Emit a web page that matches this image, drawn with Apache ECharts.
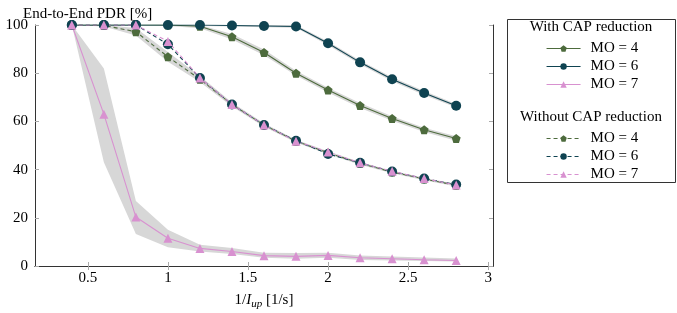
<!DOCTYPE html>
<html><head><meta charset="utf-8">
<script src="https://cdn.jsdelivr.net/npm/echarts@6/dist/echarts.min.js"></script>
<style>html,body{margin:0;padding:0;background:#fff}#c{width:677px;height:313px}</style>
</head><body><div id="c"></div>
<script>
const xs = [0.4, 0.6, 0.8, 1.0, 1.2, 1.4, 1.6, 1.8, 2.0, 2.2, 2.4, 2.6, 2.8];
const xTicks = [0.5, 1, 1.5, 2, 2.5, 3];
const yTicks = [0, 20, 40, 60, 80, 100];

const withMO4 = [100, 100, 100, 100, 99.5, 95.1, 88.6, 80, 73, 66.6, 61.2, 56.5, 52.9];
const withMO6 = [100, 100, 100, 100, 100, 99.8, 99.6, 99.4, 92.4, 84.5, 77.5, 71.8, 66.5];
const withMO7 = [100, 63, 20.3, 11.5, 7.3, 6, 4.3, 4, 4.4, 3.4, 3, 2.6, 2.3];
const withoutMO4 = [100, 99.8, 97.2, 86.8, 77.5, 67, 58.5, 51.8, 47, 42.6, 39, 36.1, 33.5];
const withoutMO6 = [100, 100, 100, 92, 78, 67, 58.5, 52, 46.5, 42.8, 39.2, 36.3, 33.8];
const withoutMO7 = [100, 100, 100, 93.2, 78, 67, 58.5, 51.8, 47.3, 42.8, 39.3, 36.3, 33.6];

const withMO7Lo = [100, 43, 13.3, 7.8, 6, 5, 3.4, 3, 3.4, 2.5, 2.3, 2.1, 1.9];
const withMO7Hi = [100, 82, 27, 15, 8.8, 7.5, 5.5, 5.4, 5.5, 4.4, 3.9, 3.5, 3.1];
const withMO4Lo = [100, 100, 100, 99.6, 98.6, 94, 87.4, 79, 72, 65.6, 60.3, 55.6, 52];
const withMO4Hi = [100, 100, 100, 100, 100, 96.3, 89.8, 81, 74, 67.6, 62.1, 57.4, 53.8];
const withoutMO4Lo = [100, 99.4, 95.6, 84.8, 76.3, 66.2, 57.8, 51.2, 46.4, 42, 38.5, 35.6, 33];
const withoutMO4Hi = [100, 100, 98.8, 88.8, 78.8, 67.8, 59.2, 52.4, 47.6, 43.2, 39.5, 36.6, 34];
const withMO6Lo = [100, 100, 100, 100, 99.6, 99.4, 99.1, 98.9, 91.6, 83.7, 76.7, 71, 65.8];
const withMO6Hi = [100, 100, 100, 100, 100, 100, 100, 100, 93.2, 85.3, 78.3, 72.6, 67.2];

const GREEN = '#4d6b3d', TEAL = '#0f4351', PINK = '#d891d0';
const FONT = '"Liberation Serif", "DejaVu Serif", serif';
const PENT = 'path://M0,-10L9.51,-3.09L5.88,8.09L-5.88,8.09L-9.51,-3.09Z';

function band(lo, hi) {
  return {
    type: 'custom', xAxisIndex: 0, yAxisIndex: 0, silent: true, z: 1,
    data: xs.map((x, i) => [x, lo[i], hi[i]]),
    encode: { x: 0, y: [1, 2] },
    renderItem: function (params, api) {
      if (params.dataIndex !== 0) return null;
      const pts = [];
      for (let i = 0; i < xs.length; i++) pts.push(api.coord([xs[i], hi[i]]));
      for (let i = xs.length - 1; i >= 0; i--) pts.push(api.coord([xs[i], lo[i]]));
      return { type: 'polygon', shape: { points: pts }, style: { fill: '#d7d7d7', stroke: null } };
    }
  };
}

function line(name, vals, color, symbol, size, dashed) {
  return {
    name: name, type: 'line', xAxisIndex: 0, yAxisIndex: 0, z: 3,
    data: xs.map((x, i) => [x, vals[i]]),
    symbol: symbol, symbolSize: size, showAllSymbol: true,
    lineStyle: { color: color, width: 1.1, type: dashed ? [4, 3] : 'solid' },
    itemStyle: { color: color, borderWidth: 0 },
    emphasis: { disabled: true }, animation: false
  };
}

const nameMap = { w4: 'MO = 4', w6: 'MO = 6', w7: 'MO = 7', o4: 'MO = 4', o6: 'MO = 6', o7: 'MO = 7' };
const legendBase = {
  orient: 'vertical', left: 541, itemWidth: 34, itemHeight: 8, itemGap: 3,
  formatter: n => nameMap[n],
  lineStyle: { width: 1.1 },
  textStyle: { fontFamily: FONT, fontSize: 15, color: '#000', padding: [0, 0, 0, 5], lineHeight: 15 },
  inactiveColor: '#ccc', selectedMode: false
};

const axisCommon = {
  type: 'value',
  axisLine: { show: true, lineStyle: { color: '#333', width: 1 } },
  axisTick: { show: true, inside: true, length: 4, lineStyle: { color: '#aaa' } },
  splitLine: { show: false }
};

const chart = echarts.init(document.getElementById('c'), null, { renderer: 'canvas' });
chart.setOption({
  animation: false,
  backgroundColor: '#fff',
  title: { text: 'End-to-End PDR [%]', left: 18, top: 2, textStyle: { fontFamily: FONT, fontSize: 15, fontWeight: 'normal', color: '#000' } },
  grid: { left: 35, right: 184, top: 25, bottom: 47, outerBoundsMode: 'none', containLabel: false },
  xAxis: [
    Object.assign({}, axisCommon, {
      min: 0.17, max: 3.03, position: 'bottom',
      axisTick: Object.assign({}, axisCommon.axisTick, { customValues: xTicks }),
      axisLabel: { customValues: xTicks, fontFamily: FONT, fontSize: 15, color: '#000', margin: 5 },
      name: '{n|1/}{i|I}{s|up}{n| [1/s]}', nameLocation: 'middle', nameGap: 25,
      nameTextStyle: { rich: {
        n: { fontFamily: FONT, fontSize: 15, color: '#000' },
        i: { fontFamily: FONT, fontSize: 15, color: '#000', fontStyle: 'italic' },
        s: { fontFamily: FONT, fontSize: 11, color: '#000', fontStyle: 'italic', padding: [8, 0, 0, 0] }
      } }
    }),
    Object.assign({}, axisCommon, {
      min: 0.17, max: 3.03, position: 'top',
      axisTick: Object.assign({}, axisCommon.axisTick, { customValues: xTicks }),
      axisLabel: { show: false }
    })
  ],
  yAxis: [
    Object.assign({}, axisCommon, {
      min: 0, max: 100, interval: 20, position: 'left',
      axisLabel: { fontFamily: FONT, fontSize: 15, color: '#000', margin: 7 }
    }),
    Object.assign({}, axisCommon, {
      min: 0, max: 100, interval: 20, position: 'right',
      axisLabel: { show: false }
    })
  ],
  legend: [
    Object.assign({}, legendBase, { top: 36, data: ['w4', 'w6', 'w7'] }),
    Object.assign({}, legendBase, { top: 126, data: ['o4', 'o6', 'o7'] })
  ],
  graphic: [
    { type: 'rect', left: 507, top: 19, shape: { width: 168, height: 163 }, style: { fill: '#fff', stroke: '#333', lineWidth: 1 }, z: -1 },
    { type: 'text', style: { text: 'With CAP reduction', fontFamily: FONT, fontSize: 15, fill: '#000', x: 591, y: 27, align: 'center', verticalAlign: 'middle' } },
    { type: 'text', style: { text: 'Without CAP reduction', fontFamily: FONT, fontSize: 15, fill: '#000', x: 591, y: 117, align: 'center', verticalAlign: 'middle' } }
  ],
  series: [
    band(withMO7Lo, withMO7Hi),
    band(withMO4Lo, withMO4Hi),
    band(withoutMO4Lo, withoutMO4Hi),
    band(withMO6Lo, withMO6Hi),
    line('w4', withMO4, GREEN, PENT, 9, false),
    line('w6', withMO6, TEAL, 'circle', 10, false),
    line('w7', withMO7, PINK, 'triangle', 9, false),
    line('o4', withoutMO4, GREEN, PENT, 9, true),
    line('o6', withoutMO6, TEAL, 'circle', 10, true),
    line('o7', withoutMO7, PINK, 'triangle', 9, true)
  ]
});
</script></body></html>
